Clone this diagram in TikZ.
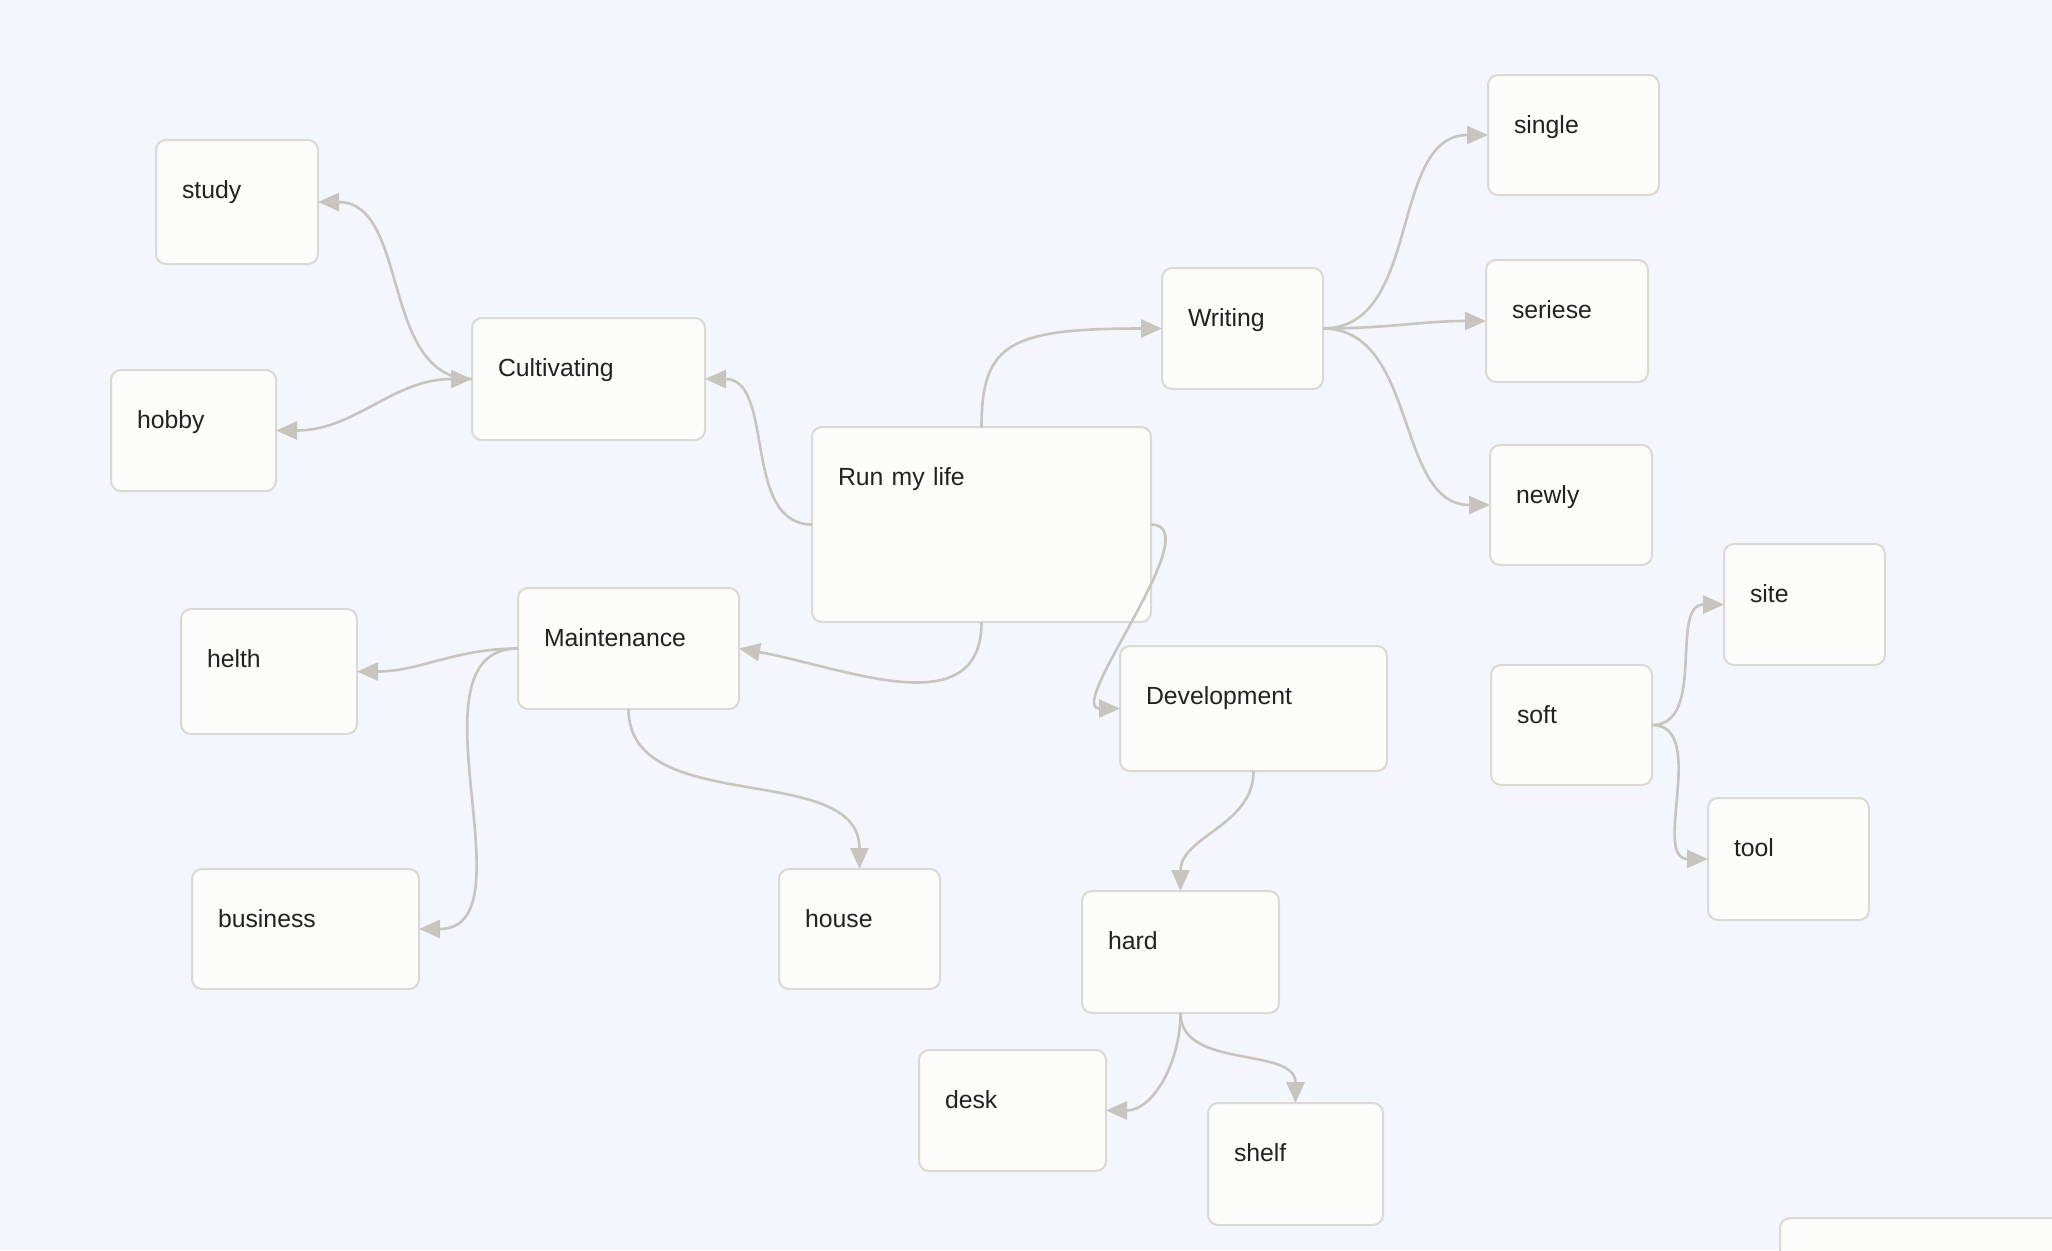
\documentclass[tikz,border=0pt]{standalone}
\usepackage{fontspec}
\setmainfont{Liberation Sans}
\usetikzlibrary{arrows.meta}
\definecolor{pagebg}{HTML}{F3F6FD}
\definecolor{cardfill}{HTML}{FCFCFA}
\definecolor{cardline}{HTML}{DCD9D4}
\definecolor{linkgray}{HTML}{C8C5BF}
\definecolor{inktext}{HTML}{222222}

\tikzset{
  card/.style 2 args={draw=cardline, line width=1pt, fill=cardfill, rounded corners=5pt,
    anchor=north west, outer sep=0pt, align=left, inner xsep=13pt, inner ysep=0pt,
    text width={#1*0.5pt-26pt}, text height=29pt, text depth={#2*0.5pt-29pt},
    text=inktext, font=\fontsize{12.4pt}{15pt}\selectfont},
  link/.style={draw=linkgray, line width=1.3pt, ->},
  >={Triangle[length=10.5pt,width=9pt]},
}

\begin{document}
\begin{tikzpicture}[x=0.5pt, y=0.5pt]
  % page
  \fill[pagebg] (0,0) rectangle (2052,-1250);
  \useasboundingbox (0,0) rectangle (2052,-1250);
  \clip (0,0) rectangle (2052,-1250);
  % root
  \node[card={339}{195}] (run) at (812,-427) {Run my life};
  % left side
  \node[card={233}{122}] (cult) at (472,-318) {Cultivating};
  \node[card={162}{124}] (study) at (156,-140) {study};
  \node[card={165}{121}] (hobby) at (111,-370) {hobby};
  \node[card={221}{121}] (maint) at (518,-588) {Maintenance};
  \node[card={176}{125}] (helth) at (181,-609) {helth};
  \node[card={227}{120}] (business) at (192,-869) {business};
  \node[card={161}{120}] (house) at (779,-869) {house};
  % right side
  \node[card={161}{121}] (writing) at (1162,-268) {Writing};
  \node[card={171}{120}] (single) at (1488,-75) {single};
  \node[card={162}{122}] (seriese) at (1486,-260) {seriese};
  \node[card={162}{120}] (newly) at (1490,-445) {newly};
  \node[card={267}{125}] (dev) at (1120,-646) {Development};
  \node[card={197}{122}] (hard) at (1082,-891) {hard};
  \node[card={187}{121}] (desk) at (919,-1050) {desk};
  \node[card={175}{122}] (shelf) at (1208,-1103) {shelf};
  \node[card={161}{120}] (soft) at (1491,-665) {soft};
  \node[card={161}{121}] (site) at (1724,-544) {site};
  \node[card={161}{122}] (tool) at (1708,-798) {tool};
  \node[card={400}{120}] (spare) at (1780,-1218) {};
  % links
  \draw[link] (run.west) to[out=180,in=0] (cult.east);
  \draw[link] (cult.west) to[out=180,in=0] (study.east);
  \draw[link,<->] (hobby.east) to[out=0,in=180] (cult.west);
  \draw[link] (run.south) to[out=-90,in=-10,looseness=1.1] (maint.east);
  \draw[link] (maint.west) to[out=180,in=0] (helth.east);
  \draw[link] (maint.west) to[out=180,in=0] (business.east);
  \draw[link] (maint.south) to[out=-90,in=90] (house.north);
  \draw[link] (run.north) to[out=90,in=180,out distance=42pt,in distance=76pt] (writing.west);
  \draw[link] (writing.east) to[out=0,in=180] (single.west);
  \draw[link] (writing.east) to[out=0,in=180] (seriese.west);
  \draw[link] (writing.east) to[out=0,in=180] (newly.west);
  \draw[link] (run.east) to[out=0,in=180,out distance=30pt,in distance=28pt] (dev.west);
  \draw[link] (dev.south) to[out=-90,in=90] (hard.north);
  \draw[link] (hard.south) to[out=-90,in=0] (desk.east);
  \draw[link] (hard.south) to[out=-90,in=90] (shelf.north);
  \draw[link] (soft.east) to[out=0,in=180] (site.west);
  \draw[link] (soft.east) to[out=0,in=180] (tool.west);
\end{tikzpicture}
\end{document}
